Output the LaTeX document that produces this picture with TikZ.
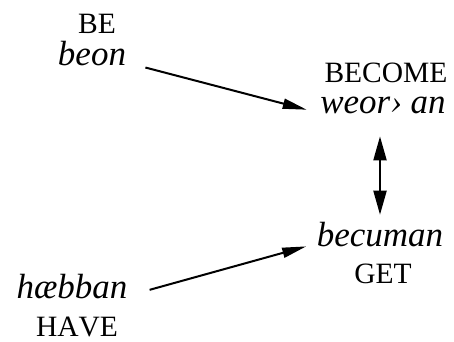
\documentclass[tikz,border=0pt]{standalone}
\usepackage{fontspec}
\setmainfont{Liberation Serif}[Kerning=Off]
\usetikzlibrary{arrows.meta,positioning}

\begin{document}
\begin{tikzpicture}[x=1pt,y=-1pt,line width=2pt,
      >={Triangle[length=24pt,width=10pt]},
      word node/.style={anchor=base,inner sep=0pt,font=\fontsize{35}{40}\selectfont\itshape},
      gloss node/.style={anchor=base,inner sep=0pt,font=\fontsize{29.5}{34}\selectfont}]
      \useasboundingbox (0,0) rectangle (454,341);
      \node[word node] (beon) at (92,65) {beon};
      \node[gloss node] (be) at (97,33) {BE};
      \node[word node] (weorthan) at (383,113) {weor› an};
      \node[gloss node] (become) at (386,82) {BECOME};
      \node[word node] (becuman) at (380,246) {becuman};
      \node[gloss node] (get) at (383,283) {GET};
      \node[word node] (haebban) at (72,298) {hæbban};
      \node[gloss node] (have) at (77,336) {HAVE};

      \draw[->,shorten <=19pt,shorten >=13pt] (beon.mid east) -- (weorthan.base west);
      \draw[->,shorten <=22pt,shorten >=10pt] (haebban.mid east) -- (becuman.mid west);
      \draw[<->,>={Triangle[length=24pt,width=13pt]},shorten <=22pt,shorten >=6pt]
        (becuman.north |- weorthan.south) -- (becuman.north);
\end{tikzpicture}
\end{document}
